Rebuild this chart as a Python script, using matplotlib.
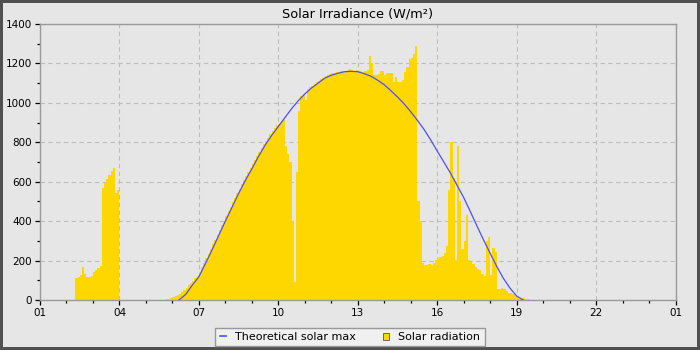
import matplotlib.pyplot as plt
from matplotlib.lines import Line2D
from matplotlib.patches import Patch
import numpy as np

# 5-minute solar radiation readings (W/m2), one row per hour from 01:00
radiation = [
    0, 0, 0, 0, 0, 0, 0, 0, 0, 0, 0, 0,                                   # 01
    0, 0, 0, 0, 113, 118, 125, 165, 130, 115, 115, 124,                   # 02
    140, 152, 160, 170, 570, 595, 615, 635, 655, 672, 545, 560,           # 03
    0, 0, 0, 0, 0, 0, 0, 0, 0, 0, 0, 0,                                   # 04
    0, 0, 0, 0, 0, 0, 0, 0, 0, 3, 5, 8,                                   # 05
    17, 22, 25, 32, 40, 50, 62, 75, 88, 98, 110, 122,                     # 06
    140, 165, 190, 212, 235, 258, 282, 306, 330, 355, 378, 402,           # 07
    425, 450, 473, 496, 519, 543, 565, 586, 610, 630, 650, 670,           # 08
    690, 710, 732, 752, 770, 790, 808, 823, 840, 856, 870, 886,           # 09
    895, 910, 915, 780, 740, 700, 400, 90, 650, 960, 1035, 1045,          # 10
    1015, 1068, 1078, 1087, 1096, 1104, 1112, 1120, 1128, 1135, 1140, 1146,  # 11
    1150, 1153, 1156, 1158, 1160, 1162, 1163, 1165, 1172, 1165, 1163, 1165,  # 12
    1163, 1160, 1158, 1162, 1168, 1237, 1200, 1140, 1142, 1144, 1160, 1162,  # 13
    1140, 1150, 1150, 1150, 1107, 1129, 1107, 1107, 1115, 1158, 1180, 1220,  # 14
    1230, 1250, 1290, 500, 400, 190, 180, 178, 182, 178, 186, 205,        # 15
    215, 220, 222, 240, 275, 560, 800, 620, 205, 780, 500, 260,           # 16
    300, 431, 205, 195, 185, 166, 155, 150, 130, 120, 300, 320,           # 17
    125, 265, 245, 58, 55, 62, 55, 45, 38, 33, 30, 25,                    # 18
    15, 12, 10, 8, 6, 4, 0, 0, 0, 0, 0, 0,                                # 19
    0, 0, 0, 0, 0, 0, 0, 0, 0, 0, 0, 0,                                   # 20
    0, 0, 0, 0, 0, 0, 0, 0, 0, 0, 0, 0,                                   # 21
    0, 0, 0, 0, 0, 0, 0, 0, 0, 0, 0, 0,                                   # 22
    0, 0, 0, 0, 0, 0, 0, 0, 0, 0, 0, 0,                                   # 23
    0, 0, 0, 0, 0, 0, 0, 0, 0, 0, 0, 0,                                   # 24
]

# theoretical clear-sky maximum, hour of day -> W/m2
theo_hours = [6.25, 6.5, 6.75, 7.0, 7.25, 7.5, 7.75, 8.0, 8.25, 8.5, 8.75, 9.0,
              9.25, 9.5, 9.75, 10.0, 10.25, 10.5, 10.75, 11.0, 11.25, 11.5, 11.75,
              12.0, 12.25, 12.5, 12.75, 13.0, 13.25, 13.5, 13.75, 14.0, 14.25,
              14.5, 14.75, 15.0, 15.25, 15.5, 15.75, 16.0, 16.25, 16.5, 16.75,
              17.0, 17.25, 17.5, 17.75, 18.0, 18.25, 18.5, 18.75, 19.0, 19.25]
theo_values = [0, 28, 75, 118, 185, 255, 328, 400, 470, 540, 605, 665,
               728, 785, 835, 880, 925, 970, 1010, 1045, 1075, 1100, 1125,
               1140, 1150, 1158, 1160, 1158, 1148, 1135, 1115, 1092, 1062,
               1030, 995, 955, 912, 866, 813, 756, 700, 644, 582,
               520, 449, 376, 305, 237, 170, 110, 60, 20, 0]

tick_labels = ['01', '04', '07', '10', '13', '16', '19', '22', '01']

bg = '#e6e6e6'
step = 5 / 60
t = 1 + np.arange(len(radiation)) * step

fig = plt.figure(figsize=(7, 3.5), dpi=100, facecolor=bg)
fig.patch.set_edgecolor('#505050')
fig.patch.set_linewidth(3)
ax = fig.add_axes([40 / 700, 50 / 350, 635.5 / 700, 276 / 350])
ax.set_facecolor(bg)
ax.set_axisbelow(True)

ax.bar(t, radiation, width=step, align='edge', color='#ffd700',
       linewidth=0, antialiased=False, zorder=2)
ax.plot(theo_hours, theo_values, color='#4f4ff5', lw=0.9, zorder=3)

ax.set_xlim(1, 25)
ax.set_ylim(0, 1400)
ax.set_xticks(np.arange(1, 26, 3))
ax.set_xticklabels(tick_labels)
ax.set_xticks(np.arange(1, 26, 1), minor=True)
ax.set_yticks(np.arange(0, 1401, 200))
ax.set_yticks(np.arange(0, 1401, 100), minor=True)
ax.tick_params(which='major', direction='out', length=3.6, width=0.9,
               labelsize=7.5, pad=2, color='black')
ax.tick_params(which='minor', direction='out', length=2, width=0.9, color='black')

for s in ax.spines.values():
    s.set_color('#9a9a9a')
    s.set_linewidth(1)

ax.grid(True, which='major', color='#bdbdbd', linestyle=(0, (4, 3)), lw=0.8)
ax.set_title('Solar Irradiance (W/m²)', fontsize=9.3, pad=5)

handles = [Line2D([0], [0], color='#4f4ff5', lw=1.2),
           Patch(facecolor='#ffd700', edgecolor='#555555', lw=0.6)]
fig.legend(handles, ['Theoretical solar max', 'Solar radiation'],
           loc='center', bbox_to_anchor=(0.5, 0.037), ncol=2, fontsize=8,
           handlelength=0.6, handleheight=0.6, columnspacing=2.4,
           fancybox=False, edgecolor='#999999', facecolor='#f0f0f0',
           framealpha=1, borderpad=0.4)

fig.savefig('out.png', dpi=100, facecolor=bg, edgecolor='#505050')
